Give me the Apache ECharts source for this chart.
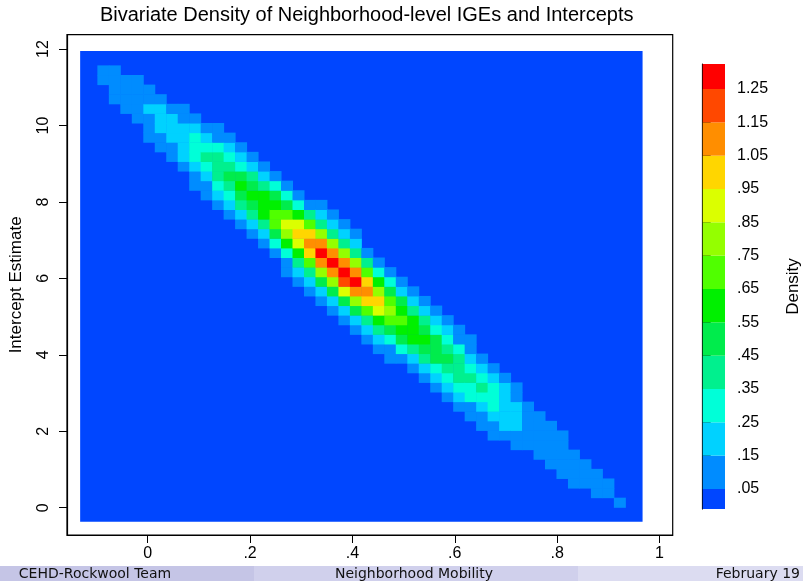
<!DOCTYPE html>
<html>
<head>
<meta charset="utf-8">
<title>Bivariate Density of Neighborhood-level IGEs and Intercepts</title>
<script src="https://cdn.jsdelivr.net/npm/echarts@6/dist/echarts.min.js"></script>
<style>
  html, body { margin: 0; padding: 0; background: #fff; }
  #chart { width: 803px; height: 581px; }
</style>
</head>
<body>
<div id="chart"></div>
<script>
// density evaluated on a 50 x 50 grid; the filled area is the grid extent
const gridX0 = -0.1321, gridDX = 0.022431, gridNX = 50
const gridY0 = -0.366, gridDY = 0.25135, gridNY = 50

// contour cut points (colour bar ticks)
const cuts = [0.05, 0.15, 0.25, 0.35, 0.45, 0.55, 0.65, 0.75, 0.85, 0.95, 1.05, 1.15, 1.25]
const cutLabels = ['.05', '.15', '.25', '.35', '.45', '.55', '.65', '.75', '.85', '.95', '1.05', '1.15', '1.25']
const barMin = -0.01, barMax = 1.325

// band colours, lowest (< .05) to highest (> 1.25)
const bandColors = ['#0046ff', '#008cff', '#00d2ff', '#00ffd8', '#00f08e', '#00ec4c', '#00f000',
    '#50ff00', '#94ff00', '#dbff00', '#ffd600', '#ff8e00', '#ff4800', '#ff0000']

// [grid column, first grid row (from bottom), band per row going up (hex)]
// everything not listed is the lowest band
const densityColumns = [
    [2, 46, '11'],
    [3, 44, '1111'],
    [4, 43, '1111'],
    [5, 42, '11111'],
    [6, 40, '111211'],
    [7, 39, '112221'],
    [8, 38, '112221'],
    [9, 37, '1222211'],
    [10, 35, '11233321'],
    [11, 34, '11234321'],
    [12, 33, '123444311'],
    [13, 32, '123454321'],
    [14, 31, '124565321'],
    [15, 30, '124565421'],
    [16, 29, '124666421'],
    [17, 28, '135776531'],
    [18, 26, '1136897531'],
    [19, 25, '12469a9631'],
    [20, 24, '1247aba741'],
    [21, 23, '1258bdb8421'],
    [22, 22, '1258bdb8421'],
    [23, 21, '1259cdb8421'],
    [24, 20, '1258bdb8421'],
    [25, 19, '1247aba741'],
    [26, 18, '12469a8631'],
    [27, 17, '1135787531'],
    [28, 17, '135676521'],
    [29, 16, '124666421'],
    [30, 15, '124565421'],
    [31, 14, '123555321'],
    [32, 13, '123454321'],
    [33, 12, '123444311'],
    [34, 11, '113343211'],
    [35, 10, '11234321'],
    [36, 9, '11233321'],
    [37, 9, '1222221'],
    [38, 8, '1122211'],
    [39, 8, '11111'],
    [40, 7, '11111'],
    [41, 6, '11111'],
    [42, 5, '11111'],
    [43, 4, '1111'],
    [44, 4, '111'],
    [45, 3, '111'],
    [46, 3, '11'],
    [47, 2, '1']
]

const xTicks = [0, 0.2, 0.4, 0.6, 0.8, 1]
const xTickLabels = ['0', '.2', '.4', '.6', '.8', '1']
const yTicks = [0, 2, 4, 6, 8, 10, 12]

// build series data
const cells = []
densityColumns.forEach(([col, row0, bands]) => {
    for (let k = 0; k < bands.length; k++) {
        cells.push([gridX0 + col * gridDX, gridY0 + (row0 + k) * gridDY, parseInt(bands[k], 16)])
    }
})
const gridExtent = [[gridX0, gridY0, gridX0 + (gridNX - 1) * gridDX, gridY0 + (gridNY - 1) * gridDY, 0]]
const barBands = bandColors.map((c, k) => [0, k === 0 ? barMin : cuts[k - 1], 1, k === cuts.length ? barMax : cuts[k], k])

const labelFor = (ticks, labels) => v => {
    const k = ticks.findIndex(t => Math.abs(t - v) < 1e-9)
    return k < 0 ? '' : labels[k]
}

function renderBox (params, api) {
    const a = api.coord([api.value(0), api.value(3)])
    const b = api.coord([api.value(2), api.value(1)])
    return {
        type: 'rect',
        shape: { x: a[0], y: a[1], width: b[0] - a[0], height: b[1] - a[1] },
        style: { fill: bandColors[api.value(4)] }
    }
}

function renderCell (params, api) {
    const x = api.value(0), y = api.value(1)
    const a = api.coord([x - gridDX / 2, y + gridDY / 2])
    const b = api.coord([x + gridDX / 2, y - gridDY / 2])
    return {
        type: 'rect',
        shape: { x: a[0], y: a[1], width: b[0] - a[0] + 0.5, height: b[1] - a[1] + 0.5 },
        style: { fill: bandColors[api.value(2)] }
    }
}

const font = 'Liberation Sans'
const ec = echarts.init(document.getElementById('chart'))

ec.setOption({
    animation: false,
    backgroundColor: '#fff',
    textStyle: { fontFamily: font, color: '#000' },
    grid: [
        { left: 60.7, top: 34.7, width: 612, height: 500.3, show: true, borderColor: '#000', borderWidth: 1.2 },
        { left: 702.7, top: 64, width: 27.3, height: 445 }
    ],
    xAxis: [
        {
            gridIndex: 0, type: 'value', min: -0.1578, max: 1.0259,
            axisLine: { show: true, onZero: false, lineStyle: { color: '#000', width: 1.2 } },
            axisTick: { customValues: xTicks, length: 8, lineStyle: { color: '#000' } },
            axisLabel: { customValues: xTicks, formatter: labelFor(xTicks, xTickLabels), margin: 11, fontSize: 16, color: '#000', fontFamily: font },
            splitLine: { show: false }
        },
        { gridIndex: 1, type: 'value', min: 0, max: 1, show: false }
    ],
    yAxis: [
        {
            gridIndex: 0, type: 'value', min: -0.714, max: 12.376,
            axisLine: { show: true, onZero: false, lineStyle: { color: '#000', width: 1.2 } },
            axisTick: { customValues: yTicks, length: 8, lineStyle: { color: '#000' } },
            axisLabel: { customValues: yTicks, rotate: 90, margin: 15, fontSize: 16, color: '#000', fontFamily: font },
            splitLine: { show: false },
            name: 'Intercept Estimate', nameLocation: 'middle', nameRotate: 90, nameGap: 42,
            nameTextStyle: { fontSize: 17, color: '#000', fontFamily: font }
        },
        {
            gridIndex: 1, type: 'value', position: 'right', min: barMin, max: barMax,
            axisLine: { show: true, lineStyle: { color: '#000', width: 1.2 } },
            axisTick: { customValues: cuts, length: 8, lineStyle: { color: '#000' } },
            axisLabel: { customValues: cuts, formatter: labelFor(cuts, cutLabels), margin: 12, fontSize: 16, color: '#000', fontFamily: font },
            splitLine: { show: false },
            name: 'Density', nameLocation: 'middle', nameRotate: 90, nameGap: 60,
            nameTextStyle: { fontSize: 17, color: '#000', fontFamily: font }
        }
    ],
    series: [
        {
            type: 'custom', xAxisIndex: 0, yAxisIndex: 0, silent: true,
            data: gridExtent,
            encode: { x: [0, 2], y: [1, 3] },
            renderItem: renderBox
        },
        {
            type: 'custom', xAxisIndex: 0, yAxisIndex: 0, silent: true,
            data: cells,
            encode: { x: 0, y: 1 },
            renderItem: renderCell
        },
        {
            type: 'custom', xAxisIndex: 1, yAxisIndex: 1, silent: true,
            data: barBands,
            encode: { x: [0, 2], y: [1, 3] },
            renderItem: renderBox
        }
    ],
    graphic: [
        {
            type: 'text', x: 366.7, y: 15, silent: true,
            style: { text: 'Bivariate Density of Neighborhood-level IGEs and Intercepts', font: '20px "Liberation Sans"', fill: '#000', align: 'center', verticalAlign: 'middle' }
        },
        // beamer footline
        { type: 'rect', shape: { x: 0, y: 566, width: 254, height: 15 }, style: { fill: '#c5c5e6' }, silent: true },
        { type: 'rect', shape: { x: 254, y: 566, width: 324, height: 15 }, style: { fill: '#d0d0ec' }, silent: true },
        { type: 'rect', shape: { x: 578, y: 566, width: 225, height: 15 }, style: { fill: '#dcdcf1' }, silent: true },
        { type: 'text', x: 95, y: 574, silent: true, style: { text: 'CEHD-Rockwool Team', font: '14px "DejaVu Sans"', fill: '#111', align: 'center', verticalAlign: 'middle' } },
        { type: 'text', x: 414, y: 574, silent: true, style: { text: 'Neighborhood Mobility', font: '14px "DejaVu Sans"', fill: '#111', align: 'center', verticalAlign: 'middle' } },
        { type: 'text', x: 800, y: 574, silent: true, style: { text: 'February 19', font: '14px "DejaVu Sans"', fill: '#111', align: 'right', verticalAlign: 'middle' } }
    ]
})
</script>
</body>
</html>
